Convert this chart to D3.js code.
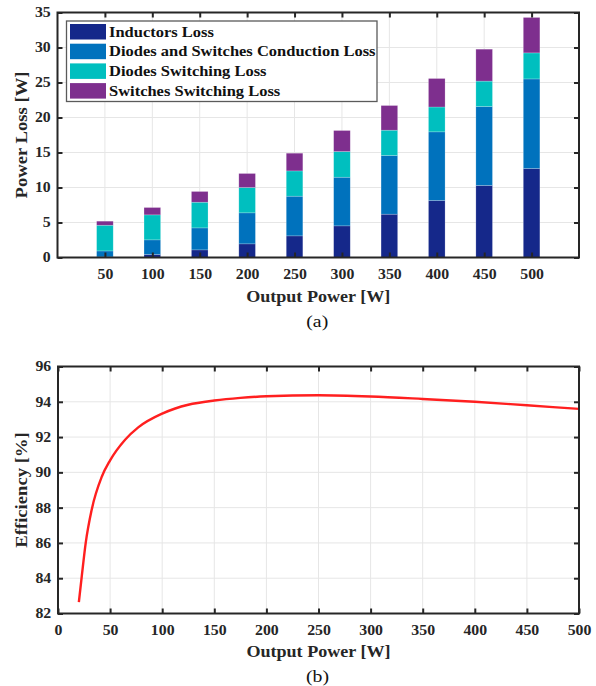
<!DOCTYPE html>
<html>
<head>
<meta charset="utf-8">
<script src="https://cdn.jsdelivr.net/npm/d3@7"></script>
<style>
  body { margin: 0; background: #fff; }
  svg { display: block; font-family: "Liberation Serif", "Times New Roman", serif; }
  .tick text { font-weight: bold; font-size: 14px; fill: #262626; }
  .grid line { stroke: #e6e6e6; stroke-width: 1; }
</style>
</head>
<body>
<script>
// (a) stacked losses
const powers = [50, 100, 150, 200, 250, 300, 350, 400, 450, 500];
const inductorsLoss = [0.08, 0.43, 1.09, 1.95, 3.09, 4.52, 6.19, 8.14, 10.29, 12.71];
const conductionLoss = [0.86, 2.09, 3.14, 4.43, 5.67, 6.95, 8.38, 9.81, 11.28, 12.8];
const diodesSwLoss = [3.67, 3.57, 3.67, 3.62, 3.61, 3.67, 3.62, 3.55, 3.63, 3.72];
const switchesSwLoss = [0.58, 1.05, 1.53, 2.0, 2.53, 3.0, 3.52, 4.07, 4.56, 5.06];
const seriesNames = ['Inductors Loss', 'Diodes and Switches Conduction Loss', 'Diodes Switching Loss', 'Switches Switching Loss'];
const seriesColors = ['#15288a', '#0072bd', '#00bfbf', '#7e2f8e'];
const lossTicks = [0, 5, 10, 15, 20, 25, 30, 35];

// (b) efficiency curve
const effPower = [20, 22.8, 26.6, 32.4, 42, 50, 64.4, 77, 100, 112.5, 125, 150, 175, 200, 250, 300, 350, 400, 450, 500];
const efficiency = [82.64, 84.1, 86, 87.9, 89.75, 90.68, 91.85, 92.55, 93.33, 93.62, 93.83, 94.07, 94.22, 94.31, 94.37, 94.3, 94.16, 94.0, 93.8, 93.6];
const effTicks = [82, 84, 86, 88, 90, 92, 94, 96];
const powerTicks = [0, 50, 100, 150, 200, 250, 300, 350, 400, 450, 500];

const W = 596, H = 686;
const svg = d3.select('body').append('svg').attr('width', W).attr('height', H);
const axisColor = '#262626';
const stretch = 'scale(1.13,1)';

function styleAxis(g) {
  g.attr('font-family', null).attr('font-size', null);
  g.select('.domain').remove();
  g.selectAll('.tick line').attr('stroke', axisColor).attr('stroke-width', 2);
  g.selectAll('.tick text').attr('transform', stretch);
}

function label(g, x, y, txt, size, bold, rot) {
  return g.append('text')
    .attr('transform', `translate(${x},${y})` + (rot ? ' rotate(-90)' : '') + ' ' + stretch)
    .attr('text-anchor', 'middle').attr('font-size', size)
    .attr('font-weight', bold ? 'bold' : 'normal').attr('fill', bold ? '#262626' : '#111')
    .text(txt);
}

// ---------- top chart ----------
const a = { left: 57.5, top: 12.5, right: 579, bottom: 257.5 };
const xA = d3.scaleLinear().domain([0, 11]).range([a.left, a.right]);
const yA = d3.scaleLinear().domain([0, 35]).range([a.bottom, a.top]);

const gA = svg.append('g');
gA.append('g').attr('class', 'grid')
  .selectAll('line.v').data(powers).enter().append('line')
  .attr('x1', (d, i) => xA(i + 1)).attr('x2', (d, i) => xA(i + 1))
  .attr('y1', a.top).attr('y2', a.bottom);
gA.append('g').attr('class', 'grid')
  .selectAll('line.h').data(lossTicks.slice(1, -1)).enter().append('line')
  .attr('x1', a.left).attr('x2', a.right)
  .attr('y1', d => yA(d)).attr('y2', d => yA(d));

const rows = powers.map((p, i) => ({
  i: i, s0: inductorsLoss[i], s1: conductionLoss[i], s2: diodesSwLoss[i], s3: switchesSwLoss[i]
}));
const stacked = d3.stack().keys(['s0', 's1', 's2', 's3'])(rows);
const barW = 0.35 * (xA(1) - xA(0));

gA.append('g').selectAll('g').data(stacked).enter().append('g')
  .attr('fill', (d, k) => seriesColors[k])
  .selectAll('rect').data(d => d).enter().append('rect')
  .attr('x', d => xA(d.data.i + 1) - barW / 2)
  .attr('width', barW)
  .attr('y', d => yA(d[1]))
  .attr('height', d => yA(d[0]) - yA(d[1]))
  .attr('stroke', 'rgba(255,255,255,0.35)')
  .attr('stroke-width', 0.6);

// axes with inward ticks
const xAxisA = d3.axisBottom(xA).tickValues(d3.range(1, 11)).tickFormat(d => powers[d - 1]).tickSizeInner(-5).tickPadding(12);
gA.append('g').attr('transform', `translate(0,${a.bottom})`).call(xAxisA).call(styleAxis)
  .selectAll('text').attr('dy', '0.71em');
gA.append('g').attr('transform', `translate(0,${a.top})`)
  .call(d3.axisTop(xA).tickValues(d3.range(1, 11)).tickFormat('').tickSizeInner(-5)).call(styleAxis);
gA.append('g').attr('transform', `translate(${a.left},0)`)
  .call(d3.axisLeft(yA).tickValues(lossTicks).tickSizeInner(-5).tickPadding(6)).call(styleAxis);
gA.append('g').attr('transform', `translate(${a.right},0)`)
  .call(d3.axisRight(yA).tickValues(lossTicks).tickFormat('').tickSizeInner(-5)).call(styleAxis);
gA.append('rect').attr('x', a.left).attr('y', a.top)
  .attr('width', a.right - a.left).attr('height', a.bottom - a.top)
  .attr('fill', 'none').attr('stroke', axisColor).attr('stroke-width', 2);

// legend
const leg = gA.append('g');
leg.append('rect').attr('x', 66.5).attr('y', 21).attr('width', 310.5).attr('height', 80.5)
  .attr('fill', '#fff').attr('stroke', '#5a5a5a').attr('stroke-width', 1.3);
const legRow = leg.selectAll('g.row').data(seriesNames).enter().append('g')
  .attr('transform', (d, k) => `translate(0,${24 + k * 19.7})`);
legRow.append('rect').attr('x', 70).attr('y', 0).attr('width', 36).attr('height', 15.5)
  .attr('fill', (d, k) => seriesColors[k]);
legRow.append('text').attr('transform', 'translate(109,12.5) ' + stretch)
  .attr('font-size', 14.6).attr('font-weight', 'bold').attr('fill', '#111')
  .text(d => d);

label(gA, (a.left + a.right) / 2, 301.5, 'Output Power [W]', 16, true);
label(gA, 27, (a.top + a.bottom) / 2, 'Power Loss [W]', 16.5, true, true);
label(gA, (a.left + a.right) / 2 - 1, 326.5, '(a)', 17.5, false);

// ---------- bottom chart ----------
const b = { left: 58, top: 366.5, right: 579, bottom: 613.5 };
const xB = d3.scaleLinear().domain([0, 500]).range([b.left, b.right]);
const yB = d3.scaleLinear().domain([82, 96]).range([b.bottom, b.top]);

const gB = svg.append('g');
gB.append('g').attr('class', 'grid')
  .selectAll('line').data(powerTicks.slice(1, -1)).enter().append('line')
  .attr('x1', d => xB(d)).attr('x2', d => xB(d))
  .attr('y1', b.top).attr('y2', b.bottom);
gB.append('g').attr('class', 'grid')
  .selectAll('line').data(effTicks.slice(1, -1)).enter().append('line')
  .attr('x1', b.left).attr('x2', b.right)
  .attr('y1', d => yB(d)).attr('y2', d => yB(d));

const line = d3.line().x(d => xB(d[0])).y(d => yB(d[1])).curve(d3.curveMonotoneX);
gB.append('path').datum(effPower.map((p, i) => [p, efficiency[i]]))
  .attr('d', line).attr('fill', 'none').attr('stroke', '#ff1f1f').attr('stroke-width', 2.4);

gB.append('g').attr('transform', `translate(0,${b.bottom})`)
  .call(d3.axisBottom(xB).tickValues(powerTicks).tickSizeInner(-5).tickPadding(12)).call(styleAxis)
  .selectAll('text').attr('dy', '0.71em');
gB.append('g').attr('transform', `translate(0,${b.top})`)
  .call(d3.axisTop(xB).tickValues(powerTicks).tickFormat('').tickSizeInner(-5)).call(styleAxis);
gB.append('g').attr('transform', `translate(${b.left},0)`)
  .call(d3.axisLeft(yB).tickValues(effTicks).tickSizeInner(-5).tickPadding(6)).call(styleAxis);
gB.append('g').attr('transform', `translate(${b.right},0)`)
  .call(d3.axisRight(yB).tickValues(effTicks).tickFormat('').tickSizeInner(-5)).call(styleAxis);
gB.append('rect').attr('x', b.left).attr('y', b.top)
  .attr('width', b.right - b.left).attr('height', b.bottom - b.top)
  .attr('fill', 'none').attr('stroke', axisColor).attr('stroke-width', 2);

label(gB, (b.left + b.right) / 2, 656.5, 'Output Power [W]', 16, true);
label(gB, 27, (b.top + b.bottom) / 2, 'Efficiency [%]', 16.5, true, true);
label(gB, (b.left + b.right) / 2 - 1, 681.5, '(b)', 17.5, false);
</script>
</body>
</html>
